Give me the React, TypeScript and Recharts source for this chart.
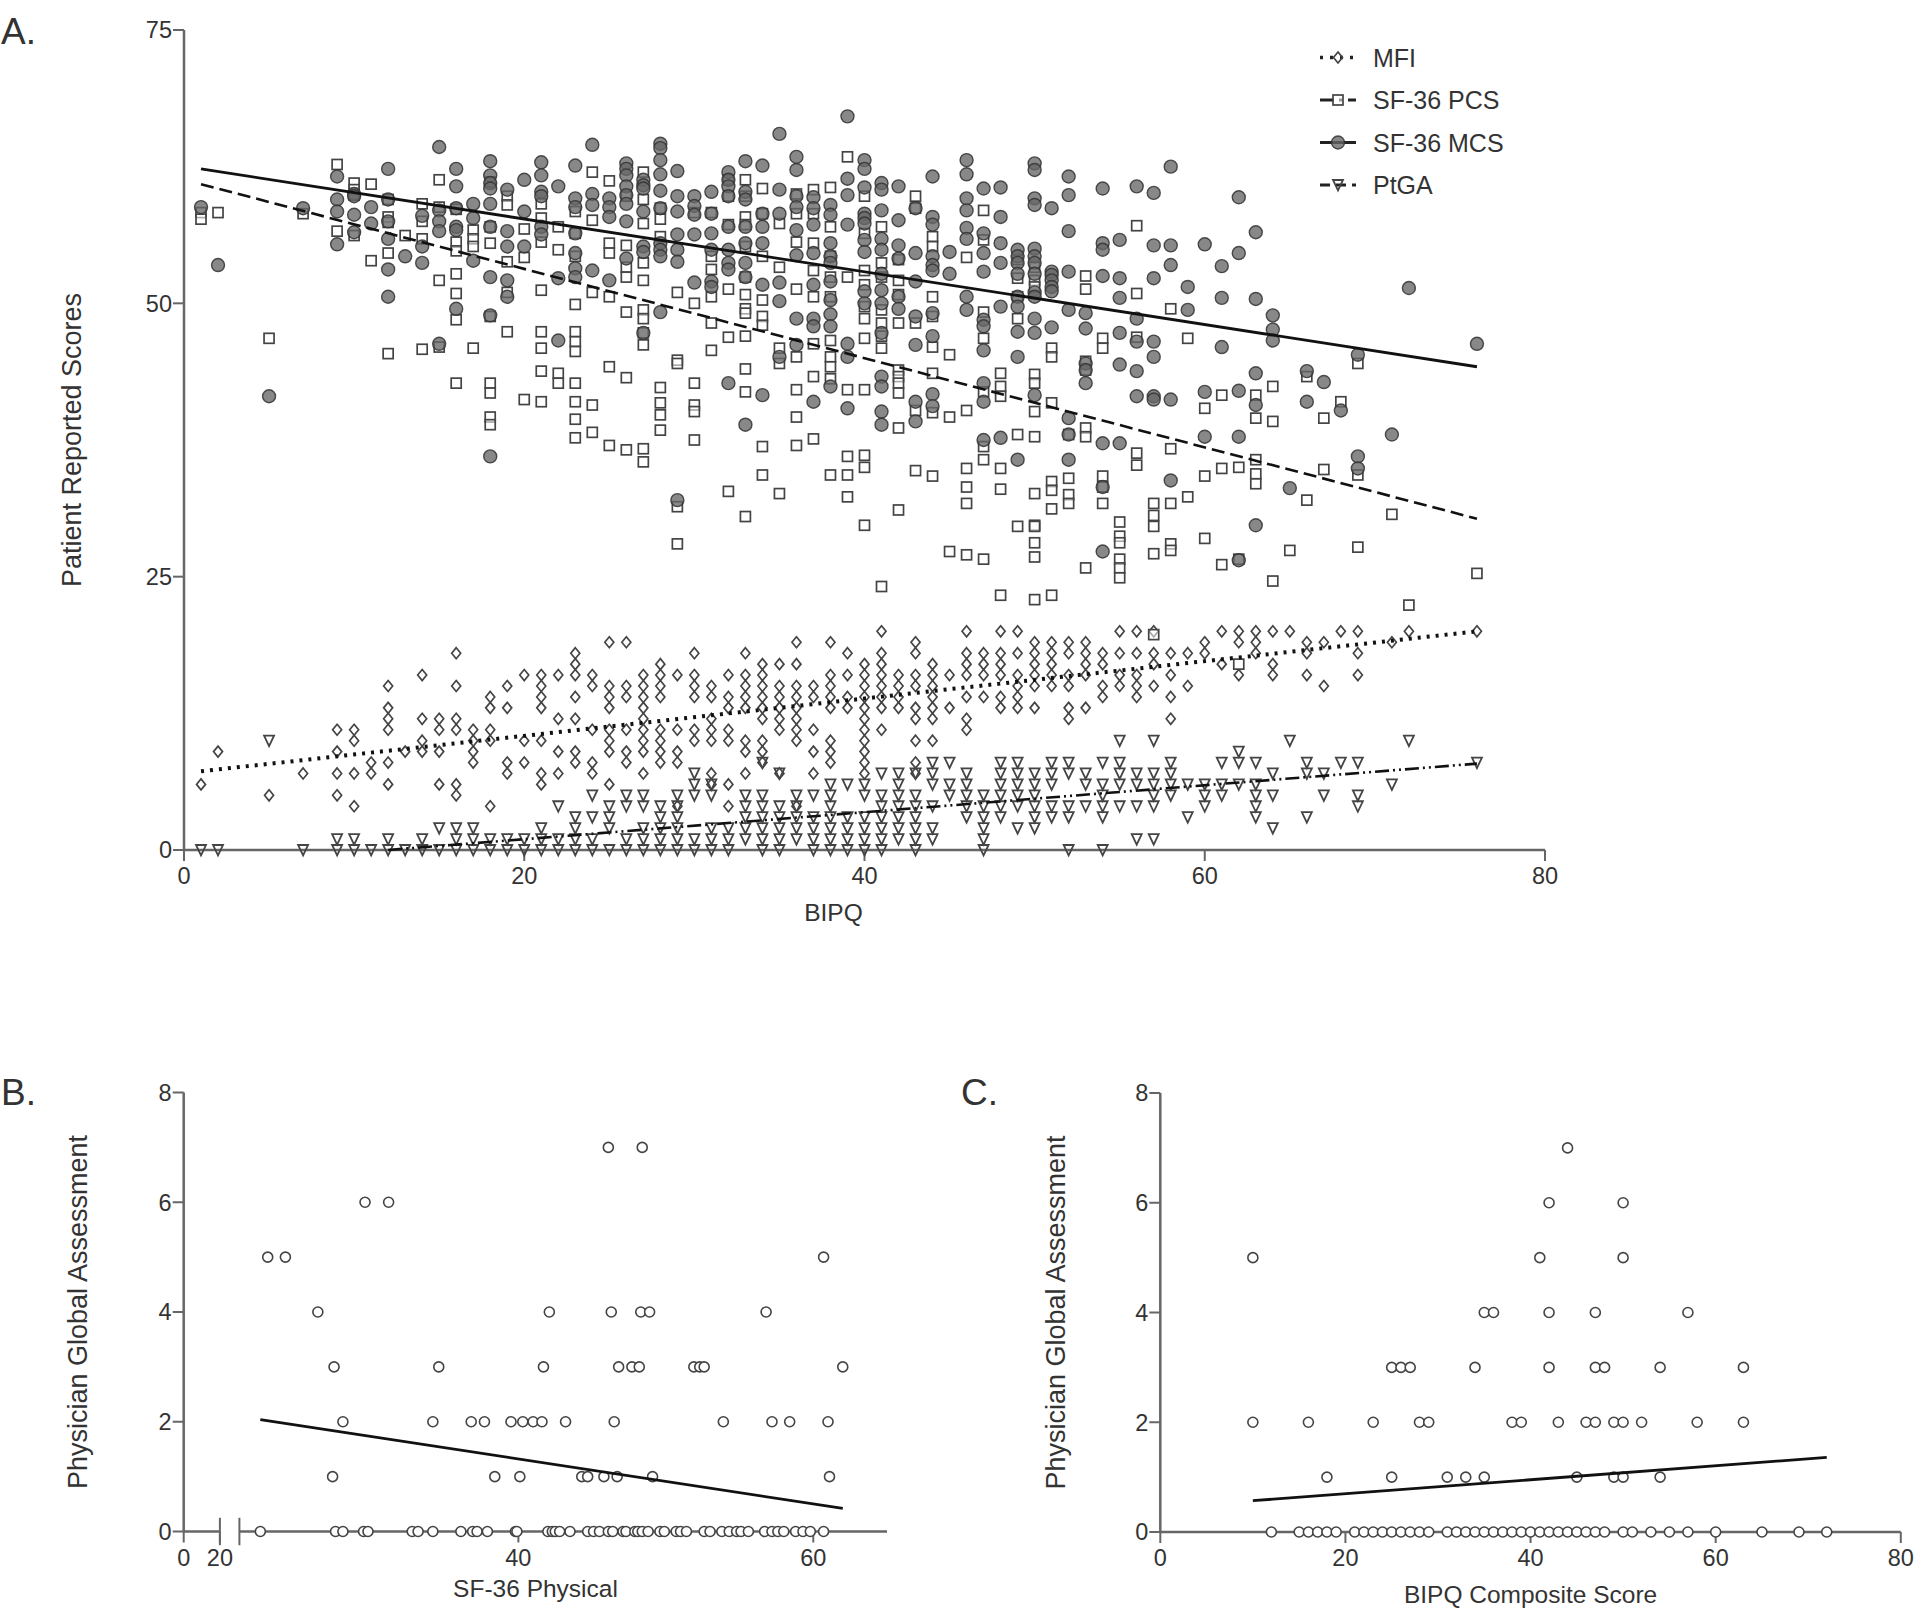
import { Label, Legend, ReferenceLine, Scatter, ScatterChart, XAxis, YAxis } from "recharts";

type Column = [number, number[]];

// panel A, one row per BIPQ value: [BIPQ, scores at that value]
const mfiColumns: Column[] = [
  [1, [6]], [2, [9]], [5, [5]], [7, [7]], [9, [11, 9, 7, 5]], [10, [11, 10, 7, 4]], [11, [8, 7]],
  [12, [15, 13, 12, 11, 8, 6]], [13, [9]], [14, [16, 12, 10, 9]], [15, [12, 11, 9, 6]],
  [16, [18, 15, 12, 11, 6, 5]], [17, [11, 10, 9, 8]], [18, [14, 13, 11, 10, 4]], [19, [15, 13, 8, 7]],
  [20, [16, 10, 8]], [21, [16, 15, 14, 13, 10, 7, 6]], [22, [16, 12, 9, 7]],
  [23, [18, 17, 16, 14, 12, 9, 8]], [24, [16, 15, 11, 8, 7]], [25, [19, 15, 14, 13, 11, 10, 9, 6]],
  [26, [19, 15, 14, 11, 9, 8]], [27, [16, 15, 14, 13, 12, 11, 10, 9, 7]],
  [28, [17, 16, 15, 14, 11, 10, 9, 8]], [29, [16, 11, 9, 8, 4]], [30, [18, 16, 15, 14, 11, 10]],
  [31, [15, 14, 12, 11, 10, 7, 6]], [32, [16, 14, 13, 11, 10, 6, 4]], [33, [18, 16, 15, 14, 13, 10, 9, 7]],
  [34, [17, 16, 15, 14, 13, 12, 10, 9, 8]], [35, [17, 15, 14, 13, 12, 11, 7]],
  [36, [19, 17, 15, 14, 13, 12, 11, 10, 4]], [37, [15, 14, 11, 9, 7]], [38, [19, 16, 15, 14, 13, 10, 9, 8]],
  [39, [18, 16, 14, 13]], [40, [17, 16, 15, 14, 13, 12, 11, 10, 9, 8, 7]],
  [41, [20, 18, 17, 16, 15, 14, 13, 11]], [42, [16, 15, 14, 13]], [43, [19, 18, 16, 15, 13, 12, 10, 8, 7]],
  [44, [17, 16, 15, 14, 13, 12, 10]], [45, [16, 13]], [46, [20, 18, 17, 16, 14, 12, 11]],
  [47, [18, 17, 16, 14]], [48, [20, 18, 17, 16, 14, 13]], [49, [20, 18, 16, 15, 14, 13]],
  [50, [19, 18, 17, 16, 15, 13]], [51, [19, 18, 17, 16, 15]], [52, [19, 18, 16, 15, 13, 12]],
  [53, [19, 18, 17, 16, 13]], [54, [18, 17, 15, 14]], [55, [20, 18, 16, 15]], [56, [20, 18, 16, 15, 14]],
  [57, [20, 18, 17, 15]], [58, [18, 16, 14, 12]], [59, [18, 15]], [60, [19, 18]], [61, [20, 17]],
  [62, [20, 19, 16]], [63, [20, 19, 18]], [64, [20, 17, 16]], [65, [20]], [66, [19, 18, 16]],
  [67, [19, 15]], [68, [20]], [69, [20, 18, 16]], [71, [19]], [72, [20]], [76, [20]],
];

const pcsColumns: Column[] = [
  [1, [58.3, 57.7]], [2, [58.3]], [5, [46.8]], [7, [58.2]], [9, [62.7, 56.6]], [10, [61, 60.4, 59.9, 56.2]],
  [11, [60.9, 53.9]], [12, [59.5, 57.9, 57.4, 54.6, 45.4]], [13, [56.2]], [14, [59.1, 57.5, 55.9, 45.8]],
  [15, [61.3, 58.8, 52.1, 46]], [16, [58.6, 55.6, 54.8, 52.7, 50.9, 48.5, 42.7]],
  [17, [56.7, 55.9, 55.2, 45.9]], [18, [61.1, 57, 55.5, 48.8, 42.7, 41.8, 39.6, 38.9]],
  [19, [59.8, 59, 53.8, 51, 47.4]], [20, [56.8, 54.2, 41.2]],
  [21, [59.1, 57.8, 55.6, 51.2, 47.4, 45.9, 43.8, 41]], [22, [57, 54.9, 43.6, 42.7]],
  [23, [58.4, 56.4, 54.3, 49.9, 47.4, 46.5, 45.6, 42.7, 41, 39.4, 37.7]], [24, [62, 57.6, 51, 40.7, 38.2]],
  [25, [61.2, 55.5, 54.6, 50.6, 44.2, 37]], [26, [59.8, 55.3, 53.3, 52.4, 49.2, 43.2, 36.6]],
  [27, [62, 59.5, 57.3, 53.7, 52.1, 49.4, 48.6, 47.3, 46.2, 36.7, 35.5]],
  [28, [58.7, 57.7, 56.1, 42.3, 40.9, 39.8, 38.4]], [29, [51, 44.8, 44.5, 31.4, 28]],
  [30, [58.3, 50, 42.7, 40.7, 40.1, 37.5]], [31, [58.3, 54.3, 53.1, 50.6, 48.2, 45.7]],
  [32, [61.3, 59.8, 57.2, 51.3, 46.9, 32.8]],
  [33, [61.3, 59.8, 57.9, 57.2, 55.2, 52.4, 50.8, 49.5, 49.1, 47, 44, 41.9, 30.5]],
  [34, [60.5, 58.2, 54.3, 50.3, 48.8, 48, 36.9, 34.3]], [35, [57.3, 53.3, 45.9, 44.5, 32.6]],
  [36, [60, 58.2, 55.6, 51.3, 45.1, 42.1, 39.6, 37]], [37, [60.4, 58.2, 55.5, 53, 50.6, 46.3, 43.3, 37.6]],
  [38, [60.6, 57, 54.3, 52.4, 50.6, 46.6, 45.1, 44.2, 43.1, 34.3]],
  [39, [63.4, 52.4, 42.1, 36, 34.3, 32.3]],
  [40, [59.8, 56.4, 53, 51.7, 49.7, 48.6, 46.8, 42.1, 36.1, 35, 29.7]],
  [41, [57, 53.7, 52.4, 49.4, 48.2, 47, 45.9, 24.1]],
  [42, [54, 52.1, 50.8, 48.2, 43.9, 43.3, 42.7, 41.8, 38.6, 31.1]],
  [43, [59.8, 58.7, 48.2, 40.2, 34.7]], [44, [56.1, 55.2, 50.6, 48.8, 46, 43.6, 40, 34.2]],
  [45, [45.3, 39.6, 27.3]], [46, [54.2, 40.2, 34.9, 33.2, 31.7, 27]],
  [47, [58.5, 55.8, 49.2, 46.8, 41.9, 36.9, 35.7, 26.6]], [48, [43.6, 42.4, 41.5, 34.9, 33, 23.3]],
  [49, [54, 50.6, 52.3, 48.6, 38, 29.6]],
  [50, [53.3, 52.1, 51.5, 43.5, 42.7, 40.1, 37.8, 32.6, 29.7, 29.6, 28.1, 26.8, 22.9]],
  [51, [45.9, 45.1, 40.9, 33.7, 32.9, 31.2, 23.3]], [52, [38, 34, 32.5, 31.7]],
  [53, [52.5, 51.3, 44.7, 43.9, 38.6, 37.8, 25.8]], [54, [46.8, 45.9, 34.2, 33.2, 31.7]],
  [55, [30, 28.7, 28.1, 26.6, 25.8, 24.9]], [56, [57.1, 50.9, 46.9, 36.3, 35.2]],
  [57, [31.7, 30.6, 29.6, 27.1, 19.7]], [58, [49.5, 36.7, 31.7, 28, 27.4]], [59, [46.8, 32.3]],
  [60, [40.4, 34.2, 28.5]], [61, [41.6, 34.9, 26.1]], [62, [35, 26.6, 17]],
  [63, [41.6, 39.5, 35.7, 34.4, 33.5]], [64, [42.4, 39.2, 24.6]], [65, [27.4]], [66, [43.3, 32]],
  [67, [39.5, 34.8]], [68, [41]], [69, [44.5, 34.3, 27.7]], [71, [30.7]], [72, [22.4]], [76, [25.3]],
];

const mcsColumns: Column[] = [
  [1, [58.8]], [2, [53.5]], [5, [41.5]], [7, [58.7]], [9, [61.6, 59.5, 58.4, 55.4]], [10, [60, 59.8, 58.1, 56.5]],
  [11, [58.8, 57.3]], [12, [62.3, 59.5, 57.5, 55.9, 53.1, 50.6]], [13, [54.3]], [14, [58, 55.2, 53.7]],
  [15, [64.3, 58.5, 57.5, 56.6, 46.3]], [16, [62.3, 60.7, 58.7, 57, 56.7, 49.5]], [17, [59.1, 57.8, 53.9]],
  [18, [63, 61.7, 61, 60.5, 59.1, 57, 52.4, 48.9, 36]], [19, [60.4, 56.6, 55.2, 52.1, 50.6]],
  [20, [61.3, 58.4, 55.2]], [21, [62.9, 61.7, 60.2, 59.8, 57, 56.3]], [22, [60.7, 52.3, 46.6]],
  [23, [62.6, 59.6, 58.8, 56.4, 54.6, 53.2, 52.4]], [24, [64.5, 60, 59, 53]], [25, [59.6, 58.8, 57.9, 52.1]],
  [26, [62.8, 62.3, 61.7, 60.7, 59.9, 59.1, 57.5, 54.1]], [27, [61.3, 60.8, 60.5, 58.4, 55.2, 54.7, 47.3]],
  [28, [64.6, 64.2, 63.1, 61.8, 60.3, 58.7, 55.5, 54.9, 54.3, 49.2]],
  [29, [62.1, 59.8, 58.4, 56.3, 54.9, 53.8, 32]], [30, [59.8, 58.9, 58.1, 56.3, 51.9]],
  [31, [60.2, 58.2, 56.4, 54.9, 52, 51.5]], [32, [62, 61.3, 60.7, 59.8, 57, 54.9, 53.7, 53.1, 42.7]],
  [33, [63, 60.2, 59.5, 57, 55.5, 53.7, 52.4, 38.9]], [34, [62.6, 58.2, 57, 55.5, 51.7, 41.6]],
  [35, [65.5, 60.4, 58.2, 51.9, 50.2, 45.1]], [36, [63.4, 62.2, 59.8, 58.8, 56.7, 54.4, 48.6, 46.2]],
  [37, [59.7, 58.7, 57.2, 54.6, 51.7, 48.6, 47.9, 41]],
  [38, [59, 58.1, 55.5, 54.3, 53.7, 52, 50.3, 49, 47.9, 42.4]], [39, [67.1, 61.4, 59.9, 57.2, 46.3, 45.1, 40.4]],
  [40, [63.1, 62.3, 60.6, 58.2, 57.8, 57.3, 55.8, 54.7, 51.1, 50]],
  [41, [61, 60.4, 58.5, 55.9, 54.9, 52.7, 51.2, 50, 47.3, 43.3, 42.4, 40.1, 38.9]],
  [42, [60.7, 57.6, 55.3, 54.1, 50.6, 49.5]], [43, [58.7, 54.6, 52, 48.8, 46.2, 41, 39.2]],
  [44, [61.6, 57.9, 57.2, 54.3, 53.5, 53, 49.1, 47, 41.7, 40.6]], [45, [54.7, 52.7]],
  [46, [63.1, 61.8, 59.6, 58.5, 56.9, 55.9, 50.6, 49.4]], [47, [60.5, 56.4, 54.6, 52.9, 48.5, 47.9, 45.7, 42.7, 41, 37.5]],
  [48, [60.6, 57.9, 55.5, 53.7, 49.7, 37.7]], [49, [54.9, 54.3, 53.7, 52.7, 50.6, 49.7, 47.4, 45.1, 35.7]],
  [50, [62.8, 62.2, 59.6, 59, 55, 54.3, 53.7, 52.7, 51, 50.6, 48.6, 47.3, 41.6]],
  [51, [58.7, 52.9, 52.6, 52.1, 51.5, 51.1, 47.8]], [52, [61.6, 59.9, 56.6, 52.9, 49.4, 39.5, 38, 35.7]],
  [53, [49.1, 47.7, 44.5, 43.9, 42.7]], [54, [60.5, 55.5, 54.9, 52.5, 37.2, 33.2, 27.3]],
  [55, [55.8, 52.3, 50.5, 47.3, 44.4, 37.2]], [56, [60.7, 48.6, 46.5, 43.8, 41.5]],
  [57, [60.1, 55.3, 52.3, 46.5, 45.1, 41.5, 41.2]], [58, [62.5, 55.3, 53.5, 41.2, 33.8]], [59, [51.5, 49.4]],
  [60, [55.4, 41.9, 37.8]], [61, [53.4, 50.5, 46]], [62, [59.7, 54.6, 42, 37.8, 26.5]],
  [63, [56.5, 50.4, 43.6, 40.7, 29.7]], [64, [48.9, 47.6, 46.6]], [65, [33.1]], [66, [43.8, 41]], [67, [42.8]],
  [68, [40.2]], [69, [45.3, 36, 34.9]], [71, [38]], [72, [51.4]], [76, [46.3]],
];

const ptgaColumns: Column[] = [
  [1, [0]], [2, [0]], [5, [10]], [7, [0]], [9, [0, 1]], [10, [0, 1]], [11, [0]], [12, [0, 1]], [13, [0]], [14, [0, 1]],
  [15, [0, 2]], [16, [0, 1, 2]], [17, [0, 1, 2]], [18, [0, 1]], [19, [0, 1]], [20, [0, 1]], [21, [0, 1, 2]],
  [22, [0, 1, 4]], [23, [0, 1, 2, 3]], [24, [0, 1, 3, 5]], [25, [0, 2, 3, 4]], [26, [0, 1, 4, 5]],
  [27, [0, 1, 2, 4, 5]], [28, [0, 1, 2, 3, 4]], [29, [0, 1, 2, 3, 4, 5]], [30, [0, 1, 5, 6, 7]],
  [31, [0, 1, 2, 5, 6]], [32, [0, 1, 2]], [33, [1, 2, 3, 4, 5]], [34, [0, 1, 2, 3, 4, 5, 8]],
  [35, [0, 1, 2, 3, 4, 7]], [36, [1, 2, 3, 4, 5]], [37, [0, 1, 2, 3, 5]], [38, [0, 1, 2, 3, 4, 5, 6]],
  [39, [0, 1, 2, 3, 6]], [40, [0, 1, 2, 3, 5, 6]], [41, [0, 1, 2, 3, 4, 5, 7]], [42, [1, 2, 3, 4, 5, 6, 7]],
  [43, [0, 1, 2, 3, 4, 5, 7]], [44, [1, 2, 4, 6, 7, 8]], [45, [5, 6, 8]], [46, [3, 4, 5, 6, 7]],
  [47, [0, 1, 2, 3, 4, 5]], [48, [3, 4, 5, 6, 7, 8]], [49, [2, 4, 5, 6, 7, 8]], [50, [2, 3, 4, 5, 6, 7]],
  [51, [3, 4, 6, 7, 8]], [52, [0, 3, 4, 7, 8]], [53, [4, 6, 7]], [54, [0, 3, 4, 5, 6, 8]], [55, [4, 6, 7, 8, 10]],
  [56, [1, 4, 6, 7]], [57, [1, 4, 5, 6, 7, 10]], [58, [5, 6, 7, 8]], [59, [3, 6]], [60, [4, 5, 6]], [61, [5, 6, 8]],
  [62, [6, 8, 9]], [63, [3, 4, 5, 6, 8]], [64, [2, 5, 7]], [65, [10]], [66, [3, 7, 8]], [67, [5, 7]], [68, [8]],
  [69, [4, 5, 8]], [71, [6]], [72, [10]], [76, [8]],
];

const mfiFit = [{ x: 1, y: 7.2 }, { x: 76, y: 20 }];
const pcsFit = [{ x: 1, y: 60.9 }, { x: 76, y: 30.3 }];
const mcsFit = [{ x: 1, y: 62.3 }, { x: 76, y: 44.2 }];
const ptgaFit = [{ x: 12, y: 0 }, { x: 76, y: 7.9 }];

// panel B, SF-36 physical values by physician score
const physicalByScore: Column[] = [
  [7, [46.1, 48.4]],
  [6, [29.6, 31.2]],
  [5, [23, 24.2, 60.7]],
  [4, [26.4, 42.1, 46.3, 48.3, 48.9, 56.8]],
  [3, [27.5, 34.6, 41.7, 46.8, 47.7, 48.2, 51.9, 52.3, 52.6, 62]],
  [2, [28.1, 34.2, 36.8, 37.7, 39.5, 40.3, 41, 41.6, 43.2, 46.5, 53.9, 57.2, 58.4, 61]],
  [1, [27.4, 38.4, 40.1, 44.3, 44.7, 45.8, 46.7, 49.1, 61.1]],
  [0, [22.5, 27.6, 28.1, 29.5, 29.8, 32.8, 33.2, 34.2, 36.1, 36.9, 37.2, 37.9, 39.8, 39.9, 42, 42.3, 42.5, 42.8, 43.5,
    44.7, 45.1, 45.5, 46.1, 46.4, 47.1, 47.3, 47.9, 48.1, 48.4, 48.8, 49.6, 49.9, 50.7, 51, 51.4, 52.6, 53, 53.8, 54.3,
    54.8, 55.1, 55.6, 56.7, 57.2, 57.6, 58, 58.8, 59.3, 59.8, 60.7]],
];
const physicalFit = [{ x: 22.5, y: 2.04 }, { x: 62, y: 0.42 }];
// no points fall left of the break, this only lets the short axis stub draw its ticks
const stubExtent = [{ x: 0, y: 0 }, { x: 20, y: 8 }];

// panel C, BIPQ composite values by physician score
const compositeByScore: Column[] = [
  [7, [44]],
  [6, [42, 50]],
  [5, [10, 41, 50]],
  [4, [35, 36, 42, 47, 57]],
  [3, [25, 26, 27, 34, 42, 47, 48, 54, 63]],
  [2, [10, 16, 23, 28, 29, 38, 39, 43, 46, 47, 49, 50, 52, 58, 63]],
  [1, [18, 25, 31, 33, 35, 45, 49, 50, 54]],
  [0, [12, 15, 16, 17, 18, 19, 21, 22, 23, 24, 25, 26, 27, 28, 29, 31, 32, 33, 34, 35, 36, 37, 38, 39, 40, 41, 42, 43,
    44, 45, 46, 47, 48, 50, 51, 53, 55, 57, 60, 65, 69, 72]],
];
const compositeFit = [{ x: 10, y: 0.57 }, { x: 72, y: 1.36 }];

const axisColor = "#666";
const textColor = "#333";
const font = "'Liberation Sans', Arial, sans-serif";
const tickStyle = { fontSize: 23.5, fill: textColor, fontFamily: font };
const xLabelStyle = { fontSize: 24.5, fill: textColor, fontFamily: font };
const yLabelStyle = { fontSize: 27, fill: textColor, fontFamily: font };
const axisLine = { stroke: axisColor, strokeWidth: 2.5 };
const tickLine = { stroke: axisColor, strokeWidth: 2 };

const byX = (cols: Column[]) => cols.flatMap(([x, ys]) => ys.map((y) => ({ x, y })));
const byY = (cols: Column[]) => cols.flatMap(([y, xs]) => xs.map((x) => ({ x, y })));

const Diamond = ({ cx, cy }: any) => (
  <path d={`M${cx} ${cy - 5.5}L${cx + 4.5} ${cy}L${cx} ${cy + 5.5}L${cx - 4.5} ${cy}Z`} fill="none" stroke="#444" strokeWidth={1.7} />
);
const Square = ({ cx, cy }: any) => (
  <rect x={cx - 5} y={cy - 5} width={10} height={10} fill="#fff" fillOpacity={0.55} stroke="#444" strokeWidth={1.7} />
);
const Dot = ({ cx, cy }: any) => (
  <circle cx={cx} cy={cy} r={6.5} fill="#666" fillOpacity={0.78} stroke="#333" strokeOpacity={0.85} strokeWidth={1.4} />
);
const Triangle = ({ cx, cy }: any) => (
  <path d={`M${cx - 5} ${cy - 5}L${cx + 5} ${cy - 5}L${cx} ${cy + 5.5}Z`} fill="none" stroke="#444" strokeWidth={1.8} />
);
const Ring = ({ cx, cy }: any) => (
  <circle cx={cx} cy={cy} r={5} fill="#fff" stroke="#444" strokeWidth={1.6} />
);
const NoMark = () => null;

const legendRows = [
  { name: "MFI", mark: Diamond, dash: "3 7", width: 3.5 },
  { name: "SF-36 PCS", mark: Square, dash: "14 5 3 6", width: 3 },
  { name: "SF-36 MCS", mark: Dot, dash: undefined, width: 3 },
  { name: "PtGA", mark: Triangle, dash: "10 6", width: 3 },
];

const PatientLegend = () => (
  <svg width={240} height={172}>
    {legendRows.map((row, i) => {
      const Mark = row.mark;
      const y = 14.5 + i * 42.5;
      return (
        <g key={row.name}>
          <line x1={1} x2={37} y1={y} y2={y} stroke="#222" strokeWidth={row.width} strokeDasharray={row.dash} />
          <Mark cx={19} cy={y} />
          <text x={54} y={y + 9} fontSize={25} fill={textColor} fontFamily={font}>{row.name}</text>
        </g>
      );
    })}
  </svg>
);

const PanelLetter = ({ text, left, top }: { text: string; left: number; top: number }) => (
  <div style={{ position: "absolute", left, top, fontSize: 37, lineHeight: "42px", color: textColor, fontFamily: font }}>{text}</div>
);

const layer = (top: number) => ({ position: "absolute" as const, left: 0, top });

function PanelA() {
  return (
    <div style={layer(0)}>
      <ScatterChart width={1920} height={960} margin={{ top: 30, left: 124, right: 375, bottom: 50 }}>
        <XAxis type="number" dataKey="x" domain={[0, 80]} ticks={[0, 20, 40, 60, 80]} height={60} tickSize={11} tickMargin={6.5}
          tick={tickStyle} axisLine={axisLine} tickLine={tickLine} interval={0}>
          <Label value="BIPQ" position="center" dx={-31} dy={32} style={xLabelStyle} />
        </XAxis>
        <YAxis type="number" dataKey="y" domain={[0, 75]} ticks={[0, 25, 50, 75]} width={60} tickSize={11} tickMargin={1}
          tick={tickStyle} axisLine={axisLine} tickLine={tickLine} interval={0}>
          <Label value="Patient Reported Scores" position="center" angle={-90} dx={-83} style={yLabelStyle} />
        </YAxis>
        <Legend layout="vertical" align="center" verticalAlign="middle" content={<PatientLegend />}
          wrapperStyle={{ left: 1319, top: 43, width: 240, height: 172 }} />
        <Scatter name="MFI" data={byX(mfiColumns)} shape={Diamond} isAnimationActive={false} />
        <Scatter name="SF-36 PCS" data={byX(pcsColumns)} shape={Square} isAnimationActive={false} />
        <Scatter name="SF-36 MCS" data={byX(mcsColumns)} shape={Dot} isAnimationActive={false} />
        <Scatter name="PtGA" data={byX(ptgaColumns)} shape={Triangle} isAnimationActive={false} />
        <Scatter data={mfiFit} shape={NoMark} line={{ stroke: "#111", strokeWidth: 4, strokeDasharray: "3 6" }} isAnimationActive={false} />
        <Scatter data={pcsFit} shape={NoMark} line={{ stroke: "#111", strokeWidth: 2.6, strokeDasharray: "13 6" }} isAnimationActive={false} />
        <Scatter data={mcsFit} shape={NoMark} line={{ stroke: "#111", strokeWidth: 2.8 }} isAnimationActive={false} />
        <Scatter data={ptgaFit} shape={NoMark} line={{ stroke: "#111", strokeWidth: 2.6, strokeDasharray: "14 4 2 4 2 4" }} isAnimationActive={false} />
      </ScatterChart>
    </div>
  );
}

const scoreTicks = [0, 2, 4, 6, 8];

// the SF-36 axis is broken between 20 and about 21, so panel B is two charts side by side on the same y range
function PanelB() {
  return (
    <>
      <div style={layer(1060)}>
        <ScatterChart width={1000} height={557} margin={{ top: 32.5, left: 123.7, right: 780.1, bottom: 0 }}>
          <XAxis type="number" dataKey="x" domain={[0, 20]} ticks={[0, 20]} height={85.5} tickSize={11} tickMargin={6.5}
            tick={tickStyle} axisLine={axisLine} tickLine={tickLine} interval={0} />
          <YAxis type="number" dataKey="y" domain={[0, 8]} ticks={scoreTicks} width={60} tickSize={11} tickMargin={1}
            tick={tickStyle} axisLine={axisLine} tickLine={tickLine} interval={0}>
            <Label value="Physician Global Assessment" position="center" angle={-90} dx={-76} style={yLabelStyle} />
          </YAxis>
          <Scatter data={stubExtent} shape={NoMark} isAnimationActive={false} />
          <ReferenceLine segment={[{ x: 20, y: -0.25 }, { x: 20, y: 0.25 }]} stroke={axisColor} strokeWidth={2} ifOverflow="visible" />
        </ScatterChart>
      </div>
      <div style={layer(1060)}>
        <ScatterChart width={1000} height={557} margin={{ top: 32.5, left: 239.4, right: 113, bottom: 0 }}>
          <XAxis type="number" dataKey="x" domain={[21.08, 65]} ticks={[40, 60]} height={85.5} tickSize={11} tickMargin={6.5}
            tick={tickStyle} axisLine={axisLine} tickLine={tickLine} interval={0}>
            <Label value="SF-36 Physical" position="center" dx={-27.7} dy={14} style={xLabelStyle} />
          </XAxis>
          <YAxis type="number" dataKey="y" domain={[0, 8]} hide />
          <ReferenceLine segment={[{ x: 21.08, y: -0.25 }, { x: 21.08, y: 0.25 }]} stroke={axisColor} strokeWidth={2} ifOverflow="visible" />
          <Scatter data={byY(physicalByScore)} shape={Ring} isAnimationActive={false} />
          <Scatter data={physicalFit} shape={NoMark} line={{ stroke: "#111", strokeWidth: 2.8 }} isAnimationActive={false} />
        </ScatterChart>
      </div>
    </>
  );
}

function PanelC() {
  return (
    <div style={layer(1060)}>
      <ScatterChart width={1920} height={557} margin={{ top: 33, left: 1100.3, right: 19.2, bottom: 0 }}>
        <XAxis type="number" dataKey="x" domain={[0, 80]} ticks={[0, 20, 40, 60, 80]} height={85} tickSize={11} tickMargin={6.5}
          tick={tickStyle} axisLine={axisLine} tickLine={tickLine} interval={0}>
          <Label value="BIPQ Composite Score" position="center" dy={20} style={xLabelStyle} />
        </XAxis>
        <YAxis type="number" dataKey="y" domain={[0, 8]} ticks={scoreTicks} width={60} tickSize={11} tickMargin={1}
          tick={tickStyle} axisLine={axisLine} tickLine={tickLine} interval={0}>
          <Label value="Physician Global Assessment" position="center" angle={-90} dx={-75} style={yLabelStyle} />
        </YAxis>
        <Scatter data={byY(compositeByScore)} shape={Ring} isAnimationActive={false} />
        <Scatter data={compositeFit} shape={NoMark} line={{ stroke: "#111", strokeWidth: 2.8 }} isAnimationActive={false} />
      </ScatterChart>
    </div>
  );
}

export default function App() {
  return (
    <div style={{ position: "absolute", left: 0, top: 0, width: 1920, height: 1617, background: "#fff" }}>
      <PanelA />
      <PanelB />
      <PanelC />
      <PanelLetter text="A." left={1} top={11} />
      <PanelLetter text="B." left={1} top={1072} />
      <PanelLetter text="C." left={961} top={1072} />
    </div>
  );
}
